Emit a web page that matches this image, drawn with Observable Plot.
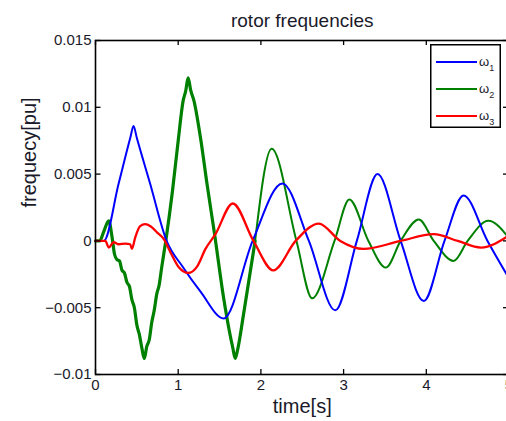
<!DOCTYPE html>
<html><head><meta charset="utf-8">
<script src="https://cdn.jsdelivr.net/npm/d3@7"></script>
<script src="https://cdn.jsdelivr.net/npm/@observablehq/plot@0.6"></script>
<style>
html,body{margin:0;padding:0;background:#fff;overflow:hidden;width:506px;height:421px;}
#chart{position:relative;width:506px;height:421px;overflow:hidden;}
#chart svg.main{max-width:none;overflow:hidden;}
#legend{position:absolute;left:430px;top:44px;}
</style></head><body>
<div id="chart"></div>
<script>
// ---- data ----
const seriesNames = ["ω1", "ω2", "ω3"];
const seriesColors = ["#0000ff", "#008000", "#ff0000"];

const xTicks = [0, 1, 2, 3, 4, 5];
const xTickLabels = ["0", "1", "2", "3", "4", "5"];
const yTicks = [-0.01, -0.005, 0, 0.005, 0.01, 0.015];
const yTickLabels = ["\u22120.01", "\u22120.005", "0", "0.005", "0.01", "0.015"];

// omega 1 (blue)
const t1 = [0, 0.1, 0.28, 0.42, 0.46, 0.50, 0.66, 0.86, 1.05, 1.27, 1.55, 1.90, 2.26, 2.58, 2.90, 3.16, 3.41, 3.69, 3.97, 4.22, 4.45, 4.74, 5.0];
const v1 = [0, 0, 0.0043, 0.0077, 0.0086, 0.0077, 0.0043, 0.0, -0.0019, -0.0038, -0.0058, 0, 0.0043, 0, -0.0052, 0, 0.0050, 0, -0.0045, 0, 0.0034, 0, -0.0028];

// omega 2 (green)
const t2 = [0, 0.05, 0.10, 0.16, 0.20, 0.23, 0.26, 0.29, 0.32, 0.35, 0.38, 0.41, 0.44, 0.47, 0.50, 0.53, 0.56, 0.59, 0.62, 0.65, 0.68, 0.71, 0.74, 0.77, 0.80, 0.85, 0.93, 1.0, 1.06, 1.09, 1.12, 1.15, 1.19, 1.27, 1.35, 1.44, 1.55, 1.62, 1.66, 1.69, 1.72, 1.79, 1.93, 2.13, 2.43, 2.62, 2.89, 3.07, 3.30, 3.51, 3.69, 3.91, 4.09, 4.33, 4.50, 4.75, 5.0];
const v2 = [0, 0, 0.0007, 0.0015, 0.0003, -0.0010, -0.0014, -0.0015, -0.0022, -0.0024, -0.0031, -0.0034, -0.0044, -0.0050, -0.0063, -0.0070, -0.0080, -0.0088, -0.0079, -0.0074, -0.0061, -0.0052, -0.0040, -0.0033, -0.0020, 0, 0.0037, 0.0075, 0.0105, 0.0112, 0.0122, 0.0113, 0.0105, 0.0077, 0.0042, 0.0005, -0.0043, -0.0068, -0.0080, -0.0088, -0.0081, -0.0055, 0, 0.0069, 0, -0.0043, 0, 0.0031, 0, -0.0020, 0, 0.0016, 0, -0.0015, 0, 0.0015, 0.0002];

// omega 3 (red)
const t3 = [0, 0.12, 0.16, 0.22, 0.28, 0.36, 0.42, 0.44, 0.48, 0.54, 0.60, 0.665, 0.75, 0.83, 0.91, 1.01, 1.12, 1.23, 1.33, 1.45, 1.66, 1.91, 2.15, 2.42, 2.70, 2.96, 3.24, 3.69, 4.09, 4.38, 4.66, 5.0];
const v3 = [0, 0, -0.0005, -0.0001, -0.00025, -0.0002, -0.00025, -0.0006, 0.00025, 0.0011, 0.00125, 0.0011, 0.0006, 0.0001, -0.0009, -0.0020, -0.0024, -0.0019, -0.0006, 0.0005, 0.0028, 0, -0.0022, 0, 0.0013, 0, -0.0006, 0, 0.0005, 0, -0.0005, 0.0004];

const title = "rotor frequencies";
const xLabel = "time[s]";
const yLabel = "frequecy[pu]";

// ---- build tables ----
const toRows = (ts, vs) => ts.map((t, i) => ({t, v: vs[i]}));
const blue = toRows(t1, v1), green = toRows(t2, v2), red = toRows(t3, v3);

const font = "'Liberation Sans', Arial, Helvetica, sans-serif";
const ink = "#1a1a2a";
const curve = "monotone-x";

const plot = Plot.plot({
  width: 506, height: 421,
  marginLeft: 95, marginRight: -2.5, marginTop: 40, marginBottom: 47,
  style: {fontFamily: font, background: "white", overflow: "hidden", maxWidth: "none"},
  x: {domain: [0, 5]},
  y: {domain: [-0.01, 0.015]},
  marks: [
    Plot.line(green, {filter: d => d.t <= 1.93, x: "t", y: "v", stroke: seriesColors[1], strokeWidth: 3.2, curve}),
    Plot.line(green, {filter: d => d.t >= 1.93, x: "t", y: "v", stroke: seriesColors[1], strokeWidth: 2, curve}),
    Plot.line(blue, {x: "t", y: "v", stroke: seriesColors[0], strokeWidth: 2, curve}),
    Plot.line(red, {x: "t", y: "v", stroke: seriesColors[2], strokeWidth: 2.3, curve}),
    Plot.frame({stroke: "black", strokeWidth: 1.6}),
    Plot.tickX(xTicks, {x: d => d, insetTop: 329, stroke: "black", strokeWidth: 1.3}),
    Plot.tickX(xTicks, {x: d => d, insetBottom: 329, stroke: "black", strokeWidth: 1.3}),
    Plot.tickY(yTicks, {y: d => d, insetRight: 408, stroke: "black", strokeWidth: 1.3}),
    Plot.tickY(yTicks, {y: d => d, insetLeft: 408, stroke: "black", strokeWidth: 1.3}),
    Plot.axisX({ticks: xTicks, tickFormat: (d, i) => xTickLabels[i], tickSize: 0, tickPadding: 5, fontSize: 15, fill: ink, label: null}),
    Plot.axisY({ticks: yTicks, tickFormat: (d, i) => yTickLabels[i], tickSize: 0, tickPadding: 4, fontSize: 15, fill: ink, label: null}),
    Plot.text([title], {frameAnchor: "top", dy: -20, fontSize: 19, fill: ink, lineAnchor: "middle", style: {letterSpacing: "0.5px"}}),
    Plot.text([xLabel], {frameAnchor: "bottom", dy: 32, fontSize: 20, fill: ink, lineAnchor: "middle"}),
    Plot.text([yLabel], {frameAnchor: "left", dx: -66, rotate: -90, fontSize: 20, fill: ink, lineAnchor: "middle"})
  ]
});
plot.classList.add("main");
const chart = document.getElementById("chart");
chart.appendChild(plot);

// ---- legend ----
const lw = 71, lh = 84;
const leg = d3.select(chart).append("svg").attr("id", "legend").attr("width", lw).attr("height", lh)
  .style("font-family", font);
leg.append("rect").attr("x", 0.75).attr("y", 0.75).attr("width", lw - 1.5).attr("height", lh - 1.5)
  .attr("fill", "white").attr("stroke", "black").attr("stroke-width", 1.5);
const items = leg.selectAll("g.item").data(seriesNames).join("g")
  .attr("transform", (d, i) => `translate(0,${18 + i * 27})`);
items.append("line").attr("x1", 6).attr("x2", 47).attr("stroke", (d, i) => seriesColors[i]).attr("stroke-width", 2);
const tx = items.append("text").attr("x", 49).attr("y", 4).attr("font-size", 13).attr("fill", ink);
tx.append("tspan").text(d => d[0]);
tx.append("tspan").attr("font-size", 9).attr("dy", 5).text(d => d.slice(1));
</script>
</body></html>
